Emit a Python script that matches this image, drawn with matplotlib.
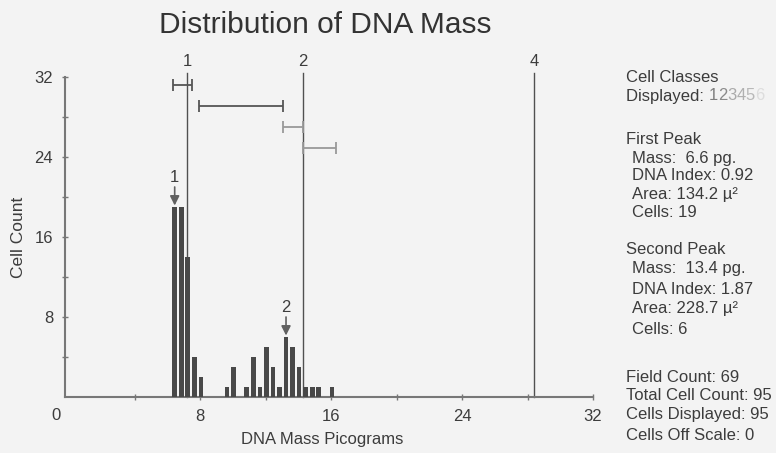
import matplotlib
matplotlib.use("Agg")
import matplotlib.pyplot as plt

# histogram of DNA mass (pg) - bin centres and cell counts
bin_centers = [6.45, 6.85, 7.25, 7.65, 8.05, 9.65, 10.05, 10.85, 11.25, 11.65,
               12.05, 12.45, 12.85, 13.25, 13.65, 14.05, 14.45, 14.85, 15.25, 16.05]
counts = [19, 19, 14, 4, 2, 1, 3, 1, 4, 1, 5, 3, 1, 6, 5, 3, 1, 1, 1, 1]

# cell class boundary lines
class_labels = ["1", "2", "4"]
class_x = [7.2, 14.3, 28.4]

# class range bars at the top
range_lo = [6.33, 7.94, 13.09, 14.31]
range_hi = [7.49, 13.09, 14.31, 16.29]
range_y = [31.2, 29.1, 27.0, 24.9]
range_col = ["#555555", "#555555", "#999999", "#999999"]

# peak markers
peak_labels = ["1", "2"]
peak_x = [6.45, 13.25]
peak_counts = [19, 6]

xticks = [8, 16, 24, 32]
yticks = [8, 16, 24, 32]

panel_lines = [
    ("Cell Classes", 0), ("Displayed: ", 0),
    ("First Peak", 0), ("Mass:  6.6 pg.", 1), ("DNA Index: 0.92", 1),
    ("Area: 134.2 µ²", 1), ("Cells: 19", 1),
    ("Second Peak", 0), ("Mass:  13.4 pg.", 1), ("DNA Index: 1.87", 1),
    ("Area: 228.7 µ²", 1), ("Cells: 6", 1),
    ("Field Count: 69", 0), ("Total Cell Count: 95", 0),
    ("Cells Displayed: 95", 0), ("Cells Off Scale: 0", 0),
]
panel_y = [78, 96, 140, 158, 176, 195, 213, 249, 269, 289, 309, 330, 377, 396, 415, 435]
class_digits = ["1", "2", "3", "4", "5", "6"]
digit_cols = ["#808080", "#8a8a8a", "#aaaaaa", "#b0b0b0", "#b8b8b8", "#dddddd"]

plt.rcParams["font.family"] = ["Liberation Sans", "DejaVu Sans"]
txt = "#3c3c3c"
W, H = 776, 453

fig = plt.figure(figsize=(W / 100, H / 100), dpi=100, facecolor="#f3f3f3")
ax = fig.add_axes([65 / W, 1 - 397 / H, (593 - 65) / W, (397 - 77) / H])
ax.set_facecolor("#f3f3f3")

ax.bar(bin_centers, counts, width=0.28, color="#484848", zorder=3)

for lab, x in zip(class_labels, class_x):
    ax.plot([x, x], [0, 32.4], color="#505050", lw=1.0, clip_on=False, zorder=2)
    ax.text(x, 33.6, lab, ha="center", va="center", fontsize=12, color=txt)

for lo, hi, y, c in zip(range_lo, range_hi, range_y, range_col):
    ax.errorbar((lo + hi) / 2, y, xerr=(hi - lo) / 2, fmt="none", ecolor=c,
                elinewidth=1.3, capsize=4, capthick=1.3, clip_on=False)

for lab, x, n in zip(peak_labels, peak_x, peak_counts):
    ax.annotate("", xy=(x, n + 0.15), xytext=(x, n + 2.0),
                arrowprops=dict(arrowstyle="-|>", color="#606060", lw=1.2,
                                mutation_scale=14, shrinkA=0, shrinkB=0))
    ax.text(x, n + 3.0, lab, ha="center", va="center", fontsize=12, color=txt)

ax.set_xlim(-0.25, 32)
ax.set_ylim(0, 32)
ax.set_xticks(xticks)
ax.set_xticks([4, 12, 20, 28], minor=True)
ax.set_yticks(yticks)
ax.set_yticks([4, 12, 20, 28], minor=True)
ax.tick_params(which="both", direction="inout", length=5, width=1, color="#777777",
               labelsize=12, labelcolor=txt, pad=6)
for s in ["top", "right"]:
    ax.spines[s].set_visible(False)
for s in ["left", "bottom"]:
    ax.spines[s].set_color("#777777")
    ax.spines[s].set_linewidth(1.5)

ax.text(-0.8, -1.8, "0", ha="center", va="center", fontsize=12, color=txt)
ax.set_xlabel("DNA Mass Picograms", fontsize=12, color=txt)
ax.xaxis.set_label_coords(0.487, -0.108)
ax.set_ylabel("Cell Count", fontsize=12.5, color=txt)
ax.yaxis.set_label_coords(-0.074, 0.5)

fig.text(325 / W, 1 - 25 / H, "Distribution of DNA Mass", ha="center", va="center",
         fontsize=21.5, color="#333333")

prev = None
for (line, indent), y in zip(panel_lines, panel_y):
    t = fig.text((626 + 6 * indent) / W, 1 - y / H, line, ha="left", va="center",
                 fontsize=12, color=txt)
    if line.startswith("Displayed"):
        prev = t
for d, c in zip(class_digits, digit_cols):
    prev = ax.annotate(d, xy=(1, 0), xycoords=prev, ha="left", va="bottom",
                       fontsize=12, color=c, annotation_clip=False)

fig.savefig("out.png", dpi=100, facecolor=fig.get_facecolor())
